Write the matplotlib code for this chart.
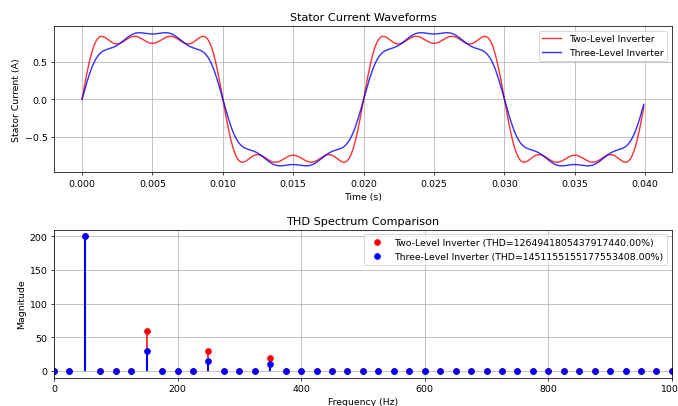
import numpy as np
import matplotlib
matplotlib.use("Agg")
import matplotlib.pyplot as plt
from matplotlib.lines import Line2D

# Harmonic content (FFT magnitude, N = 400 samples)
harmonic_freqs = [50, 150, 250, 350]          # Hz
two_level_mag = [200, 60, 30, 20]
three_level_mag = [200, 30, 15, 10]

fs = 10000                                    # Hz
n_samples = 400
freq_step = 25                                # Hz (fs / N)
freq_max = 1000

two_level_label = "Two-Level Inverter (THD=1264941805437917440.00%)"
three_level_label = "Three-Level Inverter (THD=1451155155177553408.00%)"

t = np.arange(n_samples) / fs
half_n = n_samples / 2

def synth(mags):
    y = np.zeros_like(t)
    for f, m in zip(harmonic_freqs, mags):
        y += (m / half_n) * np.sin(2 * np.pi * f * t)
    return y

i_two = synth(two_level_mag)
i_three = synth(three_level_mag)

freqs = np.arange(0, freq_max + freq_step, freq_step)
def spectrum(mags):
    s = np.zeros(len(freqs))
    for f, m in zip(harmonic_freqs, mags):
        s[int(f / freq_step)] = m
    return s

spec_two = spectrum(two_level_mag)
spec_three = spectrum(three_level_mag)

fig = plt.figure(figsize=(10, 6), dpi=67.8)
ax1 = fig.add_axes([0.0796, 0.574, 0.9114, 0.360])
ax2 = fig.add_axes([0.0796, 0.069, 0.9114, 0.3645])

ax1.plot(t, i_two, 'r-', alpha=0.8, label='Two-Level Inverter')
ax1.plot(t, i_three, 'b-', alpha=0.8, label='Three-Level Inverter')
ax1.set_title('Stator Current Waveforms')
ax1.set_xlabel('Time (s)')
ax1.set_ylabel('Stator Current (A)')
ax1.legend(loc='upper right')
ax1.grid(True)

m1, s1, b1 = ax2.stem(freqs, spec_two, linefmt='r-', markerfmt='ro', basefmt=' ')
s1.set_linewidth(1.6)
m2, s2, b2 = ax2.stem(freqs, spec_three, linefmt='b-', markerfmt='bo', basefmt=' ')
s2.set_linewidth(2.2)
ax2.set_xlim(0, freq_max)
ax2.set_title('THD Spectrum Comparison')
ax2.set_xlabel('Frequency (Hz)')
ax2.set_ylabel('Magnitude')
handles = [Line2D([], [], color='r', marker='o', linestyle=''),
           Line2D([], [], color='b', marker='o', linestyle='')]
ax2.legend(handles, [two_level_label, three_level_label], loc='upper right')
ax2.grid(True)

fig.savefig('out.png', dpi=67.8)
